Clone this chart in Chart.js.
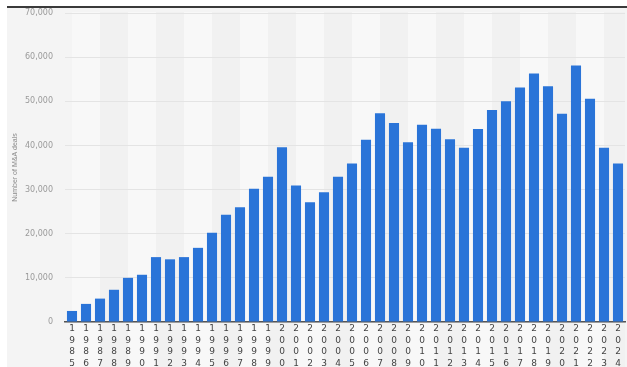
<!DOCTYPE html>
<html>
<head>
<meta charset="utf-8">
<script src="https://cdn.jsdelivr.net/npm/chart.js@4"></script>
<style>
    html, body { margin: 0; padding: 0; background: #ffffff; }
    #wrap {
        position: absolute;
        left: 7px;
        top: 6px;
        width: 620px;
        height: 359px;
        border-top: 2px solid #3a3a3a;
        background: #f4f4f4;
    }
    canvas { display: block; }
</style>
</head>
<body>
<div id="wrap"><canvas id="chart" width="620" height="359"></canvas></div>
<script>
// ---------- Data ----------

const years = [
    '1985', '1986', '1987', '1988', '1989', '1990', '1991', '1992', '1993', '1994',
    '1995', '1996', '1997', '1998', '1999', '2000', '2001', '2002', '2003', '2004',
    '2005', '2006', '2007', '2008', '2009', '2010', '2011', '2012', '2013', '2014',
    '2015', '2016', '2017', '2018', '2019', '2020', '2021', '2022', '2023', '2024'
];

const dealCounts = [
    2500, 4100, 5300, 7300, 10000, 10700, 14700, 14200, 14700, 16800,
    20200, 24300, 26000, 30200, 32900, 39600, 30900, 27100, 29400, 32900,
    35900, 41300, 47300, 45100, 40700, 44700, 43800, 41400, 39500, 43700,
    48000, 50000, 53100, 56300, 53400, 47200, 58100, 50600, 39500, 35900
];

const yTicks = [0, 10000, 20000, 30000, 40000, 50000, 60000, 70000];
const yTitle = 'Number of M&A deals';

// ---------- Plugins ----------

// alternating light/dark column bands, two categories wide
const bandPlugin = {
    id: 'bands',
    beforeDraw(chart) {
        const ctx = chart.ctx;
        const x = chart.scales.x;
        const top = chart.chartArea.top - 1;
        const bottom = chart.height;
        ctx.save();
        for (let i = 0; i < years.length; i += 2) {
            const x0 = x.getPixelForValue(i);
            const x1 = i + 2 < years.length ? x.getPixelForValue(i + 2) : chart.chartArea.right;
            ctx.fillStyle = (i / 2) % 2 === 0 ? '#f8f8f8' : '#f1f1f1';
            ctx.fillRect(x0, top, x1 - x0, bottom - top);
        }
        ctx.restore();
    }
};

// ---------- Chart ----------

const ctx = document.getElementById('chart').getContext('2d');
new Chart(ctx, {
    type: 'bar',
    data: {
        labels: years.map(y => y.split('')),
        datasets: [{
            data: dealCounts,
            backgroundColor: '#2a74d8',
            borderWidth: 0,
            barPercentage: 0.72,
            categoryPercentage: 1.0
        }]
    },
    options: {
        responsive: false,
        animation: false,
        layout: { padding: { top: 5, right: 2, left: 0, bottom: 0 } },
        plugins: {
            legend: { display: false },
            tooltip: { enabled: false }
        },
        scales: {
            x: {
                grid: { display: false, drawTicks: false },
                border: { color: '#555555', width: 1.5 },
                ticks: {
                    autoSkip: false,
                    maxRotation: 0,
                    padding: 1,
                    color: '#444444',
                    font: { family: 'DejaVu Sans', size: 9, lineHeight: '11.5px' }
                },
                afterFit: scale => {
                    scale.height = 45;
                    scale.paddingTop = 0;
                    scale.paddingBottom = 0;
                }
            },
            y: {
                min: 0,
                max: 70000,
                afterBuildTicks: scale => {
                    scale.ticks = yTicks.map(v => ({ value: v }));
                },
                grid: { color: '#e4e4e4', drawTicks: false },
                border: { display: false },
                ticks: {
                    padding: 12,
                    color: '#9a9a9a',
                    font: { family: 'DejaVu Sans', size: 8 },
                    callback: value => value.toLocaleString('en-US')
                },
                title: {
                    display: true,
                    text: yTitle,
                    color: '#8a8a8a',
                    font: { family: 'Liberation Sans', size: 7 },
                    padding: { top: 4, bottom: 0 }
                },
                afterFit: scale => {
                    scale.width = 58;
                    scale.paddingTop = 0;
                    scale.paddingBottom = 0;
                }
            }
        }
    },
    plugins: [bandPlugin]
});
</script>
</body>
</html>
